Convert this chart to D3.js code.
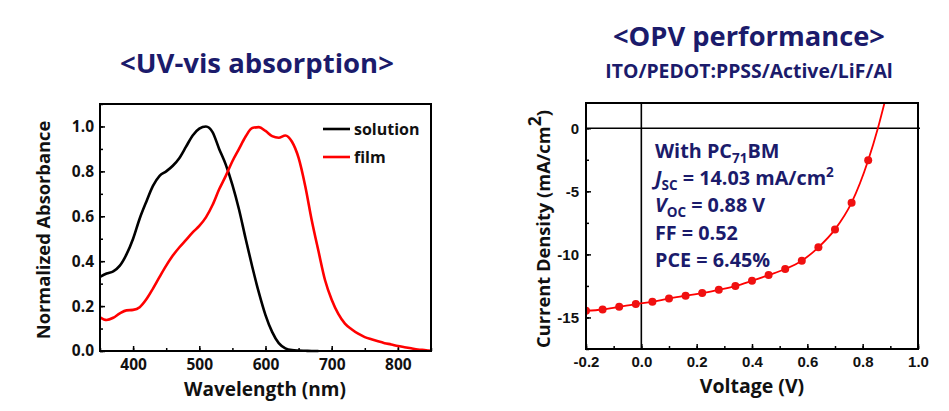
<!DOCTYPE html>
<html><head><meta charset="utf-8">
<script src="https://cdn.jsdelivr.net/npm/d3@7"></script>
<style>body{margin:0;background:#fff} svg{display:block}</style>
</head><body><svg id="c" width="949" height="411"></svg>
<script>
// ---------- Data: UV-vis ----------
const solutionWavelength = [350,360,370,380,390,400,410,420,430,440,450,460,470,480,490,500,510,520,530,540,550,560,570,580,590,600,610,620,630,640,650,660,670,680];
const solutionAbs = [0.33,0.345,0.355,0.38,0.43,0.50,0.59,0.665,0.735,0.78,0.80,0.825,0.86,0.91,0.96,0.99,1.00,0.975,0.90,0.83,0.74,0.63,0.50,0.375,0.26,0.16,0.085,0.035,0.012,0.004,0.002,0.001,0.0,0.0];
const filmWavelength = [350,360,370,380,390,400,410,420,430,440,450,460,470,480,490,500,510,520,530,540,550,560,570,580,590,600,610,620,630,640,650,660,670,680,690,700,710,720,730,740,750,760,770,780,790,800,810,820,830,840,850];
const filmAbs = [0.15,0.138,0.148,0.168,0.181,0.183,0.195,0.23,0.278,0.33,0.38,0.425,0.462,0.495,0.528,0.557,0.595,0.65,0.72,0.78,0.845,0.90,0.955,0.993,0.997,0.98,0.957,0.95,0.96,0.932,0.86,0.735,0.58,0.445,0.315,0.228,0.165,0.122,0.097,0.077,0.062,0.052,0.043,0.035,0.029,0.022,0.017,0.012,0.007,0.004,0.001];
const uvXTicks = [400,500,600,700,800];
const uvYTicks = [0.0,0.2,0.4,0.6,0.8,1.0];

// ---------- Data: J-V ----------
const markerVoltage = [-0.20,-0.14,-0.08,-0.02,0.04,0.10,0.16,0.22,0.28,0.34,0.40,0.46,0.52,0.58,0.64,0.70,0.76,0.82];
const markerCurrent = [-14.47,-14.37,-14.15,-13.94,-13.76,-13.49,-13.28,-13.07,-12.8,-12.51,-12.09,-11.64,-11.16,-10.5,-9.44,-8.02,-5.9,-2.54];
const tailVoltage = [0.855,0.88];
const tailCurrent = [0.0,2.1];
const jvXTicks = [-0.2,0.0,0.2,0.4,0.6,0.8,1.0];
const jvYTicks = [0,-5,-10,-15];

const svg = d3.select("#c");
const navy = "#1b1b6b";
const fontC = "'Open Sans', Lato, sans-serif";
const ink = "#111";

// ---------- Titles ----------
svg.append("text").attr("x",257).attr("y",73).attr("text-anchor","middle")
  .attr("font-family",fontC).attr("font-weight","bold").attr("font-size",27.5).attr("fill",navy)
  .text("<UV-vis absorption>");
svg.append("text").attr("x",749).attr("y",46).attr("text-anchor","middle")
  .attr("font-family",fontC).attr("font-weight","bold").attr("font-size",27.3).attr("fill",navy)
  .text("<OPV performance>");
svg.append("text").attr("x",749).attr("y",78).attr("text-anchor","middle")
  .attr("font-family",fontC).attr("font-weight","bold").attr("font-size",19.4).attr("fill",navy)
  .text("ITO/PEDOT:PPSS/Active/LiF/Al");

// ---------- Left chart ----------
const xL = d3.scaleLinear([350,850],[100,431]);
const yL = d3.scaleLinear([0,1.1],[351,104]);

function styleAxis(g, font, size){
  g.select(".domain").remove();
  g.selectAll("line").attr("stroke","#000").attr("stroke-width",1.5);
  g.selectAll("text").attr("font-family",font).attr("font-weight","bold").attr("font-size",size).attr("fill",ink);
}

svg.append("g").attr("transform","translate(0,351)")
  .call(d3.axisBottom(xL).tickValues(d3.range(350,851,50)).tickSize(-3).tickFormat(""))
  .call(g=>styleAxis(g,fontC,15.5));
svg.append("g").attr("transform","translate(0,351)")
  .call(d3.axisBottom(xL).tickValues(uvXTicks).tickSize(-5).tickPadding(8).tickFormat(d3.format("d")))
  .call(g=>styleAxis(g,fontC,15.5));
svg.append("g").attr("transform","translate(100,0)")
  .call(d3.axisLeft(yL).tickValues(d3.range(0,1.11,0.1)).tickSize(-3).tickFormat(""))
  .call(g=>styleAxis(g,fontC,15.5));
svg.append("g").attr("transform","translate(100,0)")
  .call(d3.axisLeft(yL).tickValues(uvYTicks).tickSize(-5).tickPadding(6).tickFormat(d=>d.toFixed(1)))
  .call(g=>styleAxis(g,fontC,15.5));

const lineL = d3.line().x(d=>xL(d[0])).y(d=>yL(d[1])).curve(d3.curveMonotoneX);
svg.append("path").datum(d3.zip(solutionWavelength,solutionAbs)).attr("d",lineL)
  .attr("fill","none").attr("stroke","#000").attr("stroke-width",2.6);
svg.append("path").datum(d3.zip(filmWavelength,filmAbs)).attr("d",lineL)
  .attr("fill","none").attr("stroke","#ff0000").attr("stroke-width",2.6);

svg.append("rect").attr("x",100).attr("y",104).attr("width",331).attr("height",247)
  .attr("fill","none").attr("stroke","#000").attr("stroke-width",2);

// legend
const legend = [{name:"solution",color:"#000"},{name:"film",color:"#ff0000"}];
legend.forEach((l,i)=>{
  const y = 129 + i*28;
  svg.append("line").attr("x1",323).attr("x2",350).attr("y1",y).attr("y2",y).attr("stroke",l.color).attr("stroke-width",2.6);
  svg.append("text").attr("x",354).attr("y",y+6).attr("font-family",fontC).attr("font-weight","bold")
    .attr("font-size",16).attr("fill",ink).text(l.name);
});

svg.append("text").attr("transform","translate(50,230) rotate(-90)").attr("text-anchor","middle")
  .attr("font-family",fontC).attr("font-weight","bold").attr("font-size",18.3).attr("fill",ink)
  .text("Normalized Absorbance");
svg.append("text").attr("x",265).attr("y",396).attr("text-anchor","middle")
  .attr("font-family",fontC).attr("font-weight","bold").attr("font-size",19).attr("fill",ink)
  .text("Wavelength (nm)");

// ---------- Right chart ----------
const xR = d3.scaleLinear([-0.2,1.0],[586,918]);
const yR = d3.scaleLinear([-17.5,2],[349,103]);
const fontT = "'Liberation Sans', Arial, sans-serif";

svg.append("g").attr("transform","translate(0,349)")
  .call(d3.axisBottom(xR).tickValues(d3.range(-0.2,1.001,0.1)).tickSize(-3).tickFormat(""))
  .call(g=>styleAxis(g,fontT,15));
svg.append("g").attr("transform","translate(0,349)")
  .call(d3.axisBottom(xR).tickValues(jvXTicks).tickSize(-5).tickPadding(7).tickFormat(d=>d.toFixed(1)))
  .call(g=>styleAxis(g,fontT,15));
svg.append("g").attr("transform","translate(586,0)")
  .call(d3.axisLeft(yR).tickValues(d3.range(-17.5,2.01,2.5)).tickSize(-3).tickFormat(""))
  .call(g=>styleAxis(g,fontT,15));
svg.append("g").attr("transform","translate(586,0)")
  .call(d3.axisLeft(yR).tickValues(jvYTicks).tickSize(-5).tickPadding(7).tickFormat(d=>String(d)))
  .call(g=>styleAxis(g,fontT,15));

// zero lines
svg.append("line").attr("x1",586).attr("x2",920).attr("y1",yR(0)).attr("y2",yR(0)).attr("stroke","#000").attr("stroke-width",1.6);
svg.append("line").attr("x1",xR(0)).attr("x2",xR(0)).attr("y1",103).attr("y2",349).attr("stroke","#000").attr("stroke-width",1.6);

svg.append("clipPath").attr("id","clipR").append("rect").attr("x",586).attr("y",103).attr("width",332).attr("height",246);
const lineR = d3.line().x(d=>xR(d[0])).y(d=>yR(d[1])).curve(d3.curveMonotoneX);
const jvLine = d3.zip(markerVoltage.concat(tailVoltage), markerCurrent.concat(tailCurrent));
svg.append("path").datum(jvLine).attr("d",lineR).attr("clip-path","url(#clipR)")
  .attr("fill","none").attr("stroke","#ff0000").attr("stroke-width",1.8);
svg.append("g").selectAll("circle").data(d3.zip(markerVoltage,markerCurrent)).join("circle")
  .attr("cx",d=>xR(d[0])).attr("cy",d=>yR(d[1])).attr("r",4).attr("fill","#f01010")
  .attr("clip-path","url(#clipR)");

svg.append("rect").attr("x",586).attr("y",103).attr("width",332).attr("height",246)
  .attr("fill","none").attr("stroke","#000").attr("stroke-width",2);

// annotation
const ann = [
  [{t:"With PC"},{t:"71",sub:true},{t:"BM"}],
  [{t:"J",it:true},{t:"SC",sub:true},{t:" = 14.03 mA/cm"},{t:"2",sup:true}],
  [{t:"V",it:true},{t:"OC",sub:true},{t:" = 0.88 V"}],
  [{t:"FF = 0.52"}],
  [{t:"PCE = 6.45%"}]
];
ann.forEach((parts,i)=>{
  const txt = svg.append("text").attr("x",655).attr("y",158+i*27.2)
    .attr("font-family",fontC).attr("font-weight","bold").attr("font-size",19.8).attr("fill",navy);
  let shift = 0;
  parts.forEach(p=>{
    const ts = txt.append("tspan").text(p.t);
    let target = p.sub ? 5 : (p.sup ? -8 : 0);
    ts.attr("dy", target - shift); shift = target;
    if(p.sub||p.sup) ts.attr("font-size",13.5);
    if(p.it) ts.attr("font-style","italic");
  });
});

svg.append("text").attr("transform","translate(550,229) rotate(-90)").attr("text-anchor","middle")
  .attr("font-family",fontC).attr("font-weight","bold").attr("font-size",18.3).attr("fill",ink)
  .call(t=>{
    t.append("tspan").text("Current Density (mA/cm");
    t.append("tspan").text("2").attr("dy",-9).attr("font-size",17.5);
    t.append("tspan").text(")").attr("dy",9);
  });
svg.append("text").attr("x",752).attr("y",393).attr("text-anchor","middle")
  .attr("font-family",fontC).attr("font-weight","bold").attr("font-size",19.5).attr("fill",ink)
  .text("Voltage (V)");
</script></body></html>
